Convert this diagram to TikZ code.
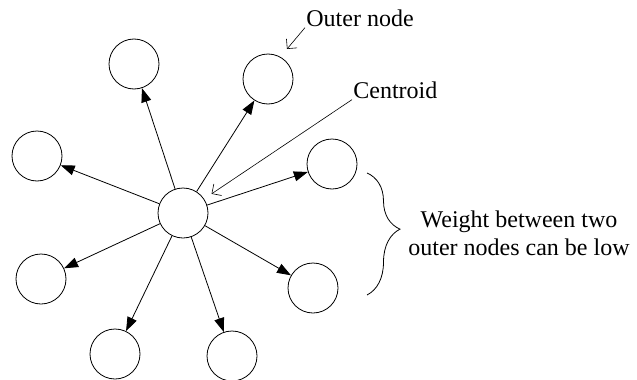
\documentclass[tikz,border=0pt]{standalone}
\usepackage{fontspec}
\setmainfont{Liberation Serif}
\usepackage{tikz}
\usetikzlibrary{positioning}
\usetikzlibrary{arrows.meta}
\usetikzlibrary{decorations.pathreplacing}

\begin{document}
\begin{tikzpicture}[x=1pt,y=-1pt,line width=0.8pt,
  outer/.style={circle,draw,minimum size=50pt,inner sep=0pt},
  weight/.style={-{Triangle[length=14pt,width=10pt]}},
  pointer/.style={-{Straight Barb[length=7pt,width=14pt]},line width=0.6pt},
  lbl/.style={font=\fontsize{24}{28}\selectfont,inner sep=1pt}]
\useasboundingbox (0,0) rectangle (637,380);
\node[outer] (ctr) at (183,213) {};
\node[outer] (o1)  at (134,64)  {};
\node[outer] (o2)  at (268,79)  {};
\node[outer] (o3)  at (332,164) {};
\node[outer] (o4)  at (313,288) {};
\node[outer] (o5)  at (232,356) {};
\node[outer] (o6)  at (115,354) {};
\node[outer] (o7)  at (41,279)  {};
\node[outer] (o8)  at (37,156)  {};
\path[weight] (ctr) edge (o1)
      (ctr) edge (o2)
      (ctr) edge (o3)
      (ctr) edge (o4)
      (ctr) edge (o5)
      (ctr) edge (o6)
      (ctr) edge (o7)
      (ctr) edge (o8);
% labels
\node[lbl,anchor=base west] (outerlbl) at (305,26) {Outer node};
\node[lbl,anchor=base west] (centlbl)  at (352,98) {Centroid};
\node[lbl,align=center]     (weightlbl) at (519,233) {Weight between two\\outer nodes can be low};
\coordinate (otip) at (287,49);
\draw[pointer] (outerlbl.south west) -- (otip);
\draw[pointer,shorten >=9pt] (centlbl.south west) -- (ctr);
\draw[decorate,decoration={brace,amplitude=33pt,aspect=0.46}] (367,173) -- (367,295);
\end{tikzpicture}
\end{document}
